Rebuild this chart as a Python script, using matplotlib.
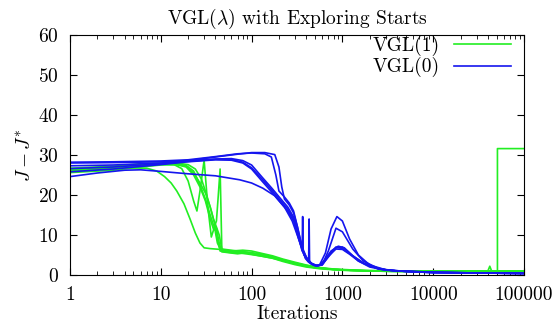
import matplotlib
matplotlib.use("Agg")
import matplotlib.pyplot as plt

plt.rcParams['font.family'] = 'serif'
plt.rcParams['font.serif'] = ['cmr10']
plt.rcParams['mathtext.fontset'] = 'cm'
plt.rcParams['axes.formatter.use_mathtext'] = True

# VGL(1) runs
g1_x = [1, 2, 4, 7, 9, 11, 13, 15, 18, 21, 24, 27, 30, 35, 45, 55, 65, 80, 100, 130, 170, 220, 300, 400, 550, 800, 1200, 2000, 4000, 10000, 30000, 100000]
g1_y = [26.0, 26.4, 26.8, 26.7, 26.0, 24.6, 23.0, 21.0, 17.8, 14.0, 10.5, 8.0, 6.8, 6.6, 6.4, 6.0, 5.8, 5.4, 5.1, 4.7, 4.2, 3.6, 2.8, 2.2, 1.7, 1.4, 1.2, 1.0, 0.9, 0.9, 0.9, 0.9]
g2_x = [1, 3, 6, 10, 14, 17, 20, 23, 25, 27, 30, 33, 36, 39, 42, 46, 50, 60, 80, 100, 130, 170, 220, 300, 400, 550, 800, 1200, 2000, 4000, 10000, 30000, 100000]
g2_y = [26.5, 27.0, 27.6, 27.8, 27.6, 26.6, 23.5, 18.5, 16.0, 21.0, 28.7, 17.0, 9.5, 12.0, 8.0, 6.2, 6.0, 5.9, 5.6, 5.5, 5.2, 4.6, 3.8, 3.0, 2.3, 1.8, 1.4, 1.2, 1.0, 0.9, 0.9, 0.9, 0.9]
g3_x = [1, 3, 6, 10, 15, 19, 23, 27, 31, 35, 38, 41, 43, 45, 47, 50, 60, 80, 100, 130, 170, 220, 300, 400, 550, 800, 1200, 2000, 4000, 10000, 30000, 100000]
g3_y = [25.8, 26.5, 27.3, 27.7, 27.6, 27.0, 25.0, 22.0, 18.5, 14.0, 11.5, 13.5, 20.0, 26.5, 6.5, 6.2, 6.0, 6.2, 6.0, 5.4, 4.8, 4.0, 3.2, 2.5, 1.9, 1.5, 1.3, 1.1, 1.0, 1.0, 1.0, 1.0]
g4_x = [1, 3, 6, 10, 15, 19, 23, 27, 31, 35, 38, 41, 44, 47, 55, 70, 90, 100, 130, 170, 220, 300, 400, 550, 800, 1200, 2000, 4000, 10000, 30000, 100000]
g4_y = [26.3, 26.8, 27.4, 27.8, 27.8, 27.4, 26.0, 22.5, 19.0, 15.0, 12.5, 11.7, 8.0, 5.8, 5.6, 5.3, 5.6, 5.2, 4.7, 4.2, 3.4, 2.6, 2.0, 1.6, 1.3, 1.1, 1.0, 0.9, 0.9, 0.9, 0.9]
g5_x = [1, 3, 6, 10, 15, 20, 24, 28, 32, 36, 39, 42, 45, 50, 60, 80, 100, 130, 170, 220, 300, 400, 550, 800, 1200, 2000, 4000, 10000, 30000, 40000, 42000, 44000, 100000]
g5_y = [26.7, 27.2, 27.8, 28.0, 28.0, 27.6, 26.5, 24.0, 20.0, 16.0, 13.0, 9.0, 6.0, 5.8, 5.6, 5.8, 5.4, 5.0, 4.4, 3.8, 3.0, 2.4, 1.8, 1.4, 1.2, 1.0, 1.0, 0.9, 1.0, 1.0, 2.2, 1.0, 1.0]
g6_x = [1, 3, 6, 10, 15, 19, 23, 27, 31, 35, 38, 41, 44, 47, 55, 70, 100, 130, 170, 220, 300, 400, 550, 800, 1200, 2000, 4000, 10000, 30000, 51000, 51000, 100000]
g6_y = [25.6, 26.2, 27.0, 27.5, 27.6, 27.2, 25.5, 23.0, 20.5, 17.0, 14.0, 12.0, 10.0, 6.5, 6.3, 6.0, 5.6, 5.0, 4.4, 3.6, 2.8, 2.2, 1.7, 1.4, 1.2, 1.1, 1.0, 1.0, 1.0, 1.0, 31.6, 31.6]

# VGL(0) runs
b1_x = [1, 3, 10, 20, 40, 70, 100, 140, 165, 185, 200, 230, 260, 290, 320, 350, 380, 420, 470, 520, 600, 700, 850, 1000, 1300, 1700, 2500, 4000, 10000, 30000, 100000]
b1_y = [28.2, 28.3, 28.5, 28.8, 29.6, 30.3, 30.5, 30.3, 29.5, 25.0, 21.0, 19.5, 18.0, 16.0, 12.0, 8.0, 5.0, 3.5, 2.7, 2.3, 2.5, 5.0, 7.0, 6.6, 4.8, 3.0, 1.5, 1.0, 0.7, 0.5, 0.4]
b2_x = [1, 3, 10, 20, 40, 70, 100, 140, 180, 200, 215, 230, 260, 290, 320, 360, 400, 450, 520, 600, 700, 850, 1000, 1300, 1700, 2500, 4000, 10000, 30000, 100000]
b2_y = [27.3, 27.5, 28.0, 28.6, 29.5, 30.2, 30.6, 30.6, 30.1, 27.0, 22.0, 19.0, 17.5, 15.5, 12.0, 7.0, 4.5, 3.0, 2.3, 2.6, 6.0, 11.7, 10.8, 6.5, 3.5, 1.6, 1.0, 0.7, 0.5, 0.4]
b3_x = [1, 3, 10, 20, 40, 60, 80, 100, 130, 170, 210, 250, 290, 330, 360, 365, 370, 390, 420, 450, 500, 560, 650, 750, 870, 1000, 1200, 1500, 2000, 3000, 5000, 10000, 30000, 100000]
b3_y = [26.6, 27.0, 27.8, 28.4, 28.9, 28.9, 28.2, 26.8, 24.0, 21.0, 18.5, 16.5, 14.0, 9.5, 6.0, 14.6, 6.0, 4.2, 3.3, 2.8, 2.4, 2.5, 5.5, 11.5, 14.6, 13.5, 9.0, 5.0, 2.5, 1.3, 0.9, 0.6, 0.5, 0.4]
b4_x = [1, 3, 10, 20, 40, 60, 80, 100, 130, 170, 210, 250, 290, 330, 370, 400, 425, 430, 435, 460, 500, 560, 650, 750, 900, 1050, 1300, 1700, 2500, 4000, 10000, 30000, 100000]
b4_y = [25.8, 26.5, 27.6, 28.3, 28.8, 28.7, 28.0, 26.5, 23.5, 20.5, 18.0, 16.0, 13.5, 9.0, 5.5, 4.0, 3.5, 14.0, 3.2, 2.7, 2.3, 2.4, 4.0, 6.0, 7.2, 6.8, 4.8, 3.0, 1.5, 1.0, 0.7, 0.5, 0.4]
b5_x = [1, 2, 4, 6, 10, 20, 40, 74, 100, 133, 180, 230, 280, 330, 380, 430, 480, 540, 620, 720, 850, 1000, 1200, 1500, 2000, 3000, 5000, 10000, 30000, 100000]
b5_y = [24.6, 25.5, 26.2, 26.3, 25.9, 25.3, 24.8, 23.8, 23.0, 21.7, 19.8, 17.0, 13.5, 9.0, 5.0, 3.2, 2.5, 2.3, 3.0, 5.0, 6.5, 6.4, 5.2, 3.5, 2.2, 1.3, 0.9, 0.6, 0.5, 0.4]
b6_x = [1, 3, 10, 20, 40, 60, 80, 100, 130, 170, 210, 250, 290, 330, 370, 410, 460, 520, 600, 700, 850, 1000, 1200, 1500, 2000, 3000, 5000, 10000, 30000, 100000]
b6_y = [28.0, 28.1, 28.3, 28.6, 29.0, 29.1, 28.6, 27.5, 24.5, 21.5, 19.0, 17.0, 14.5, 10.0, 6.0, 4.0, 2.9, 2.4, 2.6, 4.5, 6.8, 7.0, 5.5, 3.5, 2.0, 1.2, 0.9, 0.6, 0.5, 0.4]

green_runs = [(g1_x, g1_y), (g2_x, g2_y), (g3_x, g3_y), (g4_x, g4_y), (g5_x, g5_y), (g6_x, g6_y)]
blue_runs = [(b1_x, b1_y), (b2_x, b2_y), (b3_x, b3_y), (b4_x, b4_y), (b5_x, b5_y), (b6_x, b6_y)]

x_ticks = [1, 10, 100, 1000, 10000, 100000]
x_labels = ['1', '10', '100', '1000', '10000', '100000']
y_ticks = [0, 10, 20, 30, 40, 50, 60]

green = '#22ee22'
blue = '#1515ee'
fs = 14

fig = plt.figure(figsize=(5.6, 3.24), dpi=100)
ax = fig.add_axes([0.125, 0.1512, 0.8107, 0.7408])

for i, (x, y) in enumerate(green_runs):
    ax.plot(x, y, color=green, lw=1.2, label='VGL(1)' if i == 0 else None)
for i, (x, y) in enumerate(blue_runs):
    ax.plot(x, y, color=blue, lw=1.2, label='VGL(0)' if i == 0 else None)

ax.set_xscale('log')
ax.set_xlim(1, 100000)
ax.set_ylim(0, 60)
ax.set_xticks(x_ticks)
ax.set_xticklabels(x_labels)
ax.set_yticks(y_ticks)
ax.tick_params(which='both', direction='in', top=True, right=True, labelsize=fs, pad=8)
ax.tick_params(which='major', length=5)
ax.tick_params(which='minor', length=3)
ax.tick_params(axis='y', which='minor', left=False, right=False)

ax.set_title(r'VGL($\lambda$) with Exploring Starts', fontsize=fs, pad=8)
ax.set_xlabel('Iterations', fontsize=fs, labelpad=1)
ax.set_ylabel(r'$J - J^{*}$', fontsize=fs, labelpad=3)

ax.legend(loc='upper right', bbox_to_anchor=(0.971, 0.995), frameon=False, markerfirst=False,
          fontsize=fs, handlelength=2.9, handletextpad=0.75, labelspacing=0.05,
          borderaxespad=0.0, borderpad=0.0)

fig.savefig('out.png', dpi=100)
